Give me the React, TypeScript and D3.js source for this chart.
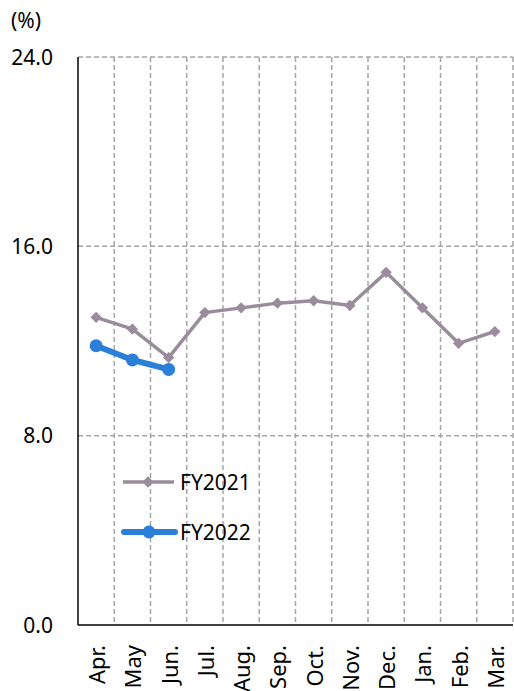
import React from "react";
import * as d3 from "d3";

const MONTHS = ["Apr.", "May", "Jun.", "Jul.", "Aug.", "Sep.", "Oct.", "Nov.", "Dec.", "Jan.", "Feb.", "Mar."];
const FY2021 = [13.0, 12.5, 11.3, 13.2, 13.4, 13.6, 13.7, 13.5, 14.9, 13.4, 11.9, 12.4];
const FY2022 = [11.8, 11.2, 10.8];
const Y_TICKS = [0, 8, 16, 24];

const W = 514;
const H = 691;
const M = { top: 57, right: 1, bottom: 66, left: 78 };

const C2021 = "#9B8C9D";
const C2022 = "#2A7FD8";
const GRID = "#A6A6A6";
const FONT = "'Noto Sans', 'Open Sans', sans-serif";

const App: React.FC = () => {
  const iW = W - M.left - M.right;
  const iH = H - M.top - M.bottom;

  const x = d3.scaleBand<string>().domain(MONTHS).range([0, iW]);
  const y = d3.scaleLinear().domain([0, 24]).range([iH, 0]);
  const cx = (i: number) => (x(MONTHS[i]) ?? 0) + x.bandwidth() / 2;

  const line = d3
    .line<number>()
    .x((_, i) => cx(i))
    .y((v) => y(v));

  // squarer diamond than d3.symbolDiamond
  const diamond = d3.symbol(d3.symbolSquare, 64)() ?? "";

  return (
    <svg
      width={W}
      height={H}
      style={{ position: "absolute", left: 0, top: 0, background: "#fff" }}
      fontFamily={FONT}
    >
      <text x={11} y={28} fontSize={21} fill="#000">(%)</text>
      <g transform={`translate(${M.left},${M.top})`}>
        {/* horizontal grid */}
        {Y_TICKS.filter((t) => t > 0).map((t) => (
          <line key={t} x1={0} x2={iW} y1={y(t)} y2={y(t)} stroke={GRID} strokeWidth={1.5} strokeDasharray="5 3" />
        ))}
        {/* vertical grid at category boundaries */}
        {MONTHS.map((m) => (
          <line
            key={m}
            x1={(x(m) ?? 0) + x.bandwidth()}
            x2={(x(m) ?? 0) + x.bandwidth()}
            y1={0}
            y2={iH}
            stroke={GRID}
            strokeWidth={1.5}
            strokeDasharray="5 3"
          />
        ))}
        {/* axes */}
        <line x1={0} x2={0} y1={0} y2={iH} stroke="#000" strokeWidth={1.5} />
        <line x1={0} x2={iW} y1={iH} y2={iH} stroke="#000" strokeWidth={1.5} />

        {Y_TICKS.map((t) => (
          <text key={t} x={-25} y={y(t)} dy="0.36em" textAnchor="end" fontSize={21} fill="#000">
            {t.toFixed(1)}
          </text>
        ))}

        {MONTHS.map((m, i) => (
          <text
            key={m}
            transform={`translate(${cx(i) + 9},${iH + 20}) rotate(-90)`}
            textAnchor="end"
            fontSize={22}
            fill="#000"
          >
            {m}
          </text>
        ))}

        {/* FY2021 */}
        <path d={line(FY2021) ?? ""} fill="none" stroke={C2021} strokeWidth={3.5} />
        {FY2021.map((v, i) => (
          <path key={i} d={diamond} transform={`translate(${cx(i)},${y(v)}) rotate(45)`} fill={C2021} />
        ))}

        {/* FY2022 */}
        <path d={line(FY2022) ?? ""} fill="none" stroke={C2022} strokeWidth={6} strokeLinecap="round" />
        {FY2022.map((v, i) => (
          <circle key={i} cx={cx(i)} cy={y(v)} r={6.5} fill={C2022} />
        ))}
      </g>

      {/* legend */}
      <g>
        <line x1={123} x2={174} y1={482} y2={482} stroke={C2021} strokeWidth={3.5} />
        <path d={diamond} transform="translate(148,482) rotate(45)" fill={C2021} />
        <text x={180} y={482} dy="0.36em" fontSize={21} fill="#000">FY2021</text>
        <line x1={124} x2={175} y1={532} y2={532} stroke={C2022} strokeWidth={6} strokeLinecap="round" />
        <circle cx={149} cy={532} r={6.5} fill={C2022} />
        <text x={180} y={532} dy="0.36em" fontSize={21} fill="#000">FY2022</text>
      </g>
    </svg>
  );
};

export default App;
